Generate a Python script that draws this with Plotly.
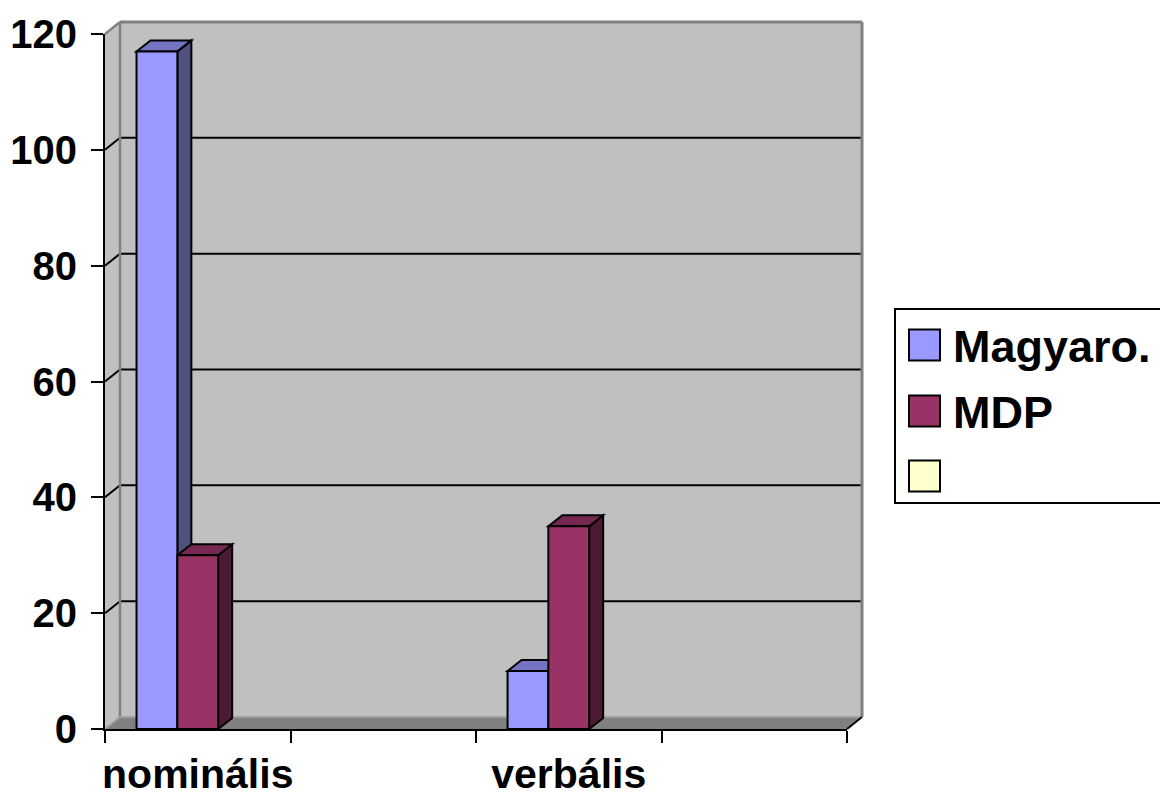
import plotly.graph_objects as go

# ---- data -------------------------------------------------------------
categories = ["nominális", "", "verbális", ""]
magyaro = [117, None, 10, None]
mdp = [30, None, 35, None]
third = [None, None, None, None]

series_names = ["Magyaro.", "MDP", ""]
series_values = [magyaro, mdp, third]
y_ticks = [0, 20, 40, 60, 80, 100, 120]

# ---- styling ----------------------------------------------------------
front_colors = ["#9999FF", "#993366", "#FFFFCC"]
top_colors = ["#7474C2", "#772850", "#C2C29B"]
side_colors = ["#4F4F80", "#4D1A33", "#80806A"]
WALL = "#C0C0C0"
FLOOR = "#808080"
EDGE = "#808080"
FONT = "Liberation Sans, Arial, sans-serif"

W, H = 1160, 796
L, R, T, B = 105, 847, 34, 729          # plot box in pixels
PW, PH = R - L, B - T
Y_MAX = 120
N = len(categories)

WALL_DX, WALL_DY = 15, 12                # wall depth in pixels
BAR_DX, BAR_DY = 14, 11                  # column depth in pixels
BAR_W = 0.22                             # column width in category units

# pixel -> paper helpers for the decorative frame
def px(x):
    return (x - L) / PW


def py(y):
    return (B - y) / PH


def paper_path(points):
    return "M " + " L ".join(f"{px(a):.5f},{py(b):.5f}" for a, b in points) + " Z"


# pixel depth -> data units
ddx = BAR_DX * N / PW
ddy = BAR_DY * Y_MAX / PH

x_idx = list(range(N))
shapes = []

# back wall, left wall and floor
shapes.append(dict(type="path", xref="paper", yref="paper", layer="below",
                   path=paper_path([(L + WALL_DX, T - WALL_DY), (R + WALL_DX, T - WALL_DY),
                                    (R + WALL_DX, B - WALL_DY), (L + WALL_DX, B - WALL_DY)]),
                   fillcolor=WALL, line=dict(width=0)))
shapes.append(dict(type="path", xref="paper", yref="paper", layer="below",
                   path=paper_path([(L, B), (L, T), (L + WALL_DX, T - WALL_DY),
                                    (L + WALL_DX, B - WALL_DY)]),
                   fillcolor=WALL, line=dict(width=0)))
shapes.append(dict(type="path", xref="paper", yref="paper", layer="below",
                   path=paper_path([(L, B), (L + WALL_DX, B - WALL_DY),
                                    (R + WALL_DX, B - WALL_DY), (R, B)]),
                   fillcolor=FLOOR, line=dict(width=0)))

# gridlines on back wall and left wall
for v in y_ticks[1:-1]:
    yf = B - v * PH / Y_MAX
    shapes.append(dict(type="line", xref="paper", yref="paper", layer="below",
                       x0=px(L + WALL_DX), x1=px(R + WALL_DX),
                       y0=py(yf - WALL_DY), y1=py(yf - WALL_DY),
                       line=dict(color="black", width=2)))
    shapes.append(dict(type="line", xref="paper", yref="paper", layer="below",
                       x0=px(L), x1=px(L + WALL_DX),
                       y0=py(yf), y1=py(yf - WALL_DY),
                       line=dict(color="black", width=2)))

# frame edges
edge_lines = [
    ((L, T), (L + WALL_DX, T - WALL_DY), EDGE, 2.5),
    ((L + WALL_DX, T - WALL_DY), (R + WALL_DX, T - WALL_DY), EDGE, 3),
    ((R + WALL_DX, T - WALL_DY), (R + WALL_DX, B - WALL_DY), EDGE, 3),
    ((L + WALL_DX, T - WALL_DY), (L + WALL_DX, B - WALL_DY), EDGE, 2.5),
    ((L + WALL_DX, B - WALL_DY), (R + WALL_DX, B - WALL_DY), "#A0A0A0", 2),
    ((L, B), (L + WALL_DX, B - WALL_DY), "#A0A0A0", 2),
    ((R, B), (R + WALL_DX, B - WALL_DY), "black", 2),
]
for (x0, y0), (x1, y1), c, w in edge_lines:
    shapes.append(dict(type="line", xref="paper", yref="paper", layer="below",
                       x0=px(x0), y0=py(y0), x1=px(x1), y1=py(y1),
                       line=dict(color=c, width=w)))

# side and top faces of the columns, drawn left to right
offsets = [(-1.5 + i) * BAR_W for i in range(len(series_values))]
for ci in range(N):
    for si, vals in enumerate(series_values):
        v = vals[ci]
        if v is None:
            continue
        xl = ci + offsets[si]
        xr = xl + BAR_W
        side = (f"M {xr},0 L {xr},{v} L {xr + ddx},{v + ddy} "
                f"L {xr + ddx},{ddy} Z")
        top = (f"M {xl},{v} L {xr},{v} L {xr + ddx},{v + ddy} "
               f"L {xl + ddx},{v + ddy} Z")
        shapes.append(dict(type="path", xref="x", yref="y", layer="below", path=side,
                           fillcolor=side_colors[si], line=dict(color="black", width=2)))
        shapes.append(dict(type="path", xref="x", yref="y", layer="below", path=top,
                           fillcolor=top_colors[si], line=dict(color="black", width=2)))

fig = go.Figure()
for si, vals in enumerate(series_values):
    fig.add_trace(go.Bar(
        x=x_idx, y=vals, name=series_names[si],
        width=BAR_W, offset=offsets[si],
        marker=dict(color=front_colors[si], line=dict(color="black", width=2)),
        showlegend=False,
    ))

# legend box
LEG_X0, LEG_X1, LEG_Y0, LEG_Y1 = 895, 1175, 309, 503
shapes.append(dict(type="rect", xref="paper", yref="paper", layer="above",
                   x0=px(LEG_X0), x1=px(LEG_X1), y0=py(LEG_Y1), y1=py(LEG_Y0),
                   fillcolor="white", line=dict(color="black", width=2)))
annotations = []
row_centers = [345, 411, 476]
SW = 31
for si, yc in enumerate(row_centers):
    shapes.append(dict(type="rect", xref="paper", yref="paper", layer="above",
                       x0=px(909), x1=px(909 + SW),
                       y0=py(yc + SW / 2), y1=py(yc - SW / 2),
                       fillcolor=front_colors[si], line=dict(color="black", width=2)))
    if series_names[si]:
        annotations.append(dict(xref="paper", yref="paper", x=px(951), y=py(yc + 1),
                                xanchor="left", yanchor="middle", showarrow=False,
                                text=series_names[si],
                                font=dict(family=FONT, size=45, color="black", weight="bold")))

fig.update_layout(
    width=W, height=H,
    margin=dict(l=L, r=W - R, t=T, b=H - B, pad=0, autoexpand=False),
    paper_bgcolor="white",
    plot_bgcolor="rgba(0,0,0,0)",
    showlegend=False,
    shapes=shapes,
    annotations=annotations,
    xaxis=dict(
        range=[-0.5, N - 0.5],
        automargin=False,
        tickmode="array",
        tickvals=x_idx,
        ticktext=categories,
        ticks="",
        showgrid=False, zeroline=False,
        showline=True, linecolor="black", linewidth=2,
        tickfont=dict(family=FONT, size=41, color="black", weight="bold"),
        ticklabelstandoff=8,
        minor=dict(tickmode="array", tickvals=[i - 0.5 for i in range(N + 1)],
                   ticks="outside", ticklen=12, tickwidth=2, tickcolor="black",
                   showgrid=False),
    ),
    yaxis=dict(
        range=[0, Y_MAX],
        automargin=False,
        tickmode="array",
        tickvals=y_ticks,
        ticks="outside", ticklen=12, tickwidth=2, tickcolor="black",
        showgrid=False, zeroline=False,
        showline=True, linecolor="black", linewidth=2,
        tickfont=dict(family=FONT, size=40, color="black", weight="bold"),
        ticklabelstandoff=6,
    ),
)

fig.write_html("out.html")
